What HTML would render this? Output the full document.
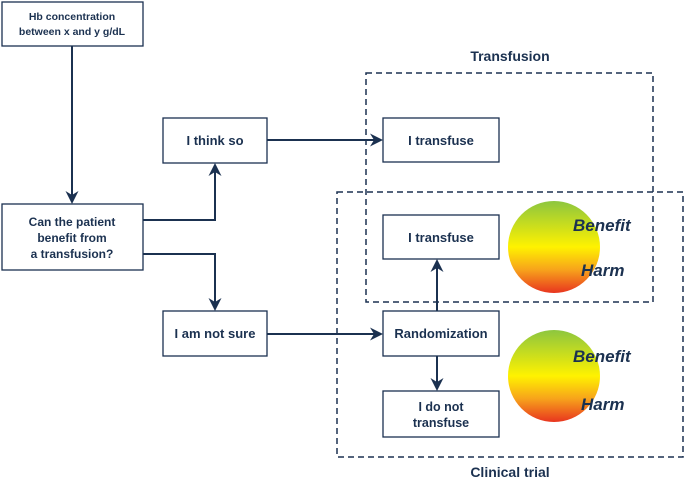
<!DOCTYPE html>
<html><head><style>body{margin:0;background:#fff}</style></head><body>
<svg width="685" height="481" xmlns="http://www.w3.org/2000/svg" font-family="Liberation Sans, sans-serif">
<defs>
<linearGradient id="g" x1="0" y1="0" x2="0" y2="1">
<stop offset="0" stop-color="#8dc63f"/><stop offset="0.5" stop-color="#fff200"/><stop offset="0.75" stop-color="#f7a21b"/><stop offset="1" stop-color="#e8351f"/>
</linearGradient>
<marker id="a" markerWidth="13" markerHeight="13" refX="11" refY="6.5" orient="auto" markerUnits="userSpaceOnUse"><path d="M0,0 L13,6.5 L0,13 L4,6.5 z" fill="#1b3150"/></marker>
</defs>
<g stroke="#1b3150" fill="none" stroke-width="1.5">
<rect x="366" y="73" width="287" height="229" stroke-dasharray="6,4"/>
<rect x="337" y="192" width="346" height="265" stroke-dasharray="6,4"/>
</g>
<circle cx="554" cy="247" r="46" fill="url(#g)"/>
<circle cx="554" cy="376" r="46" fill="url(#g)"/>
<g stroke="#1b3150" fill="#fff" stroke-width="1.3">
<rect x="2" y="2" width="141" height="44"/>
<rect x="2" y="204" width="141" height="66"/>
<rect x="163" y="118" width="104" height="45"/>
<rect x="163" y="311" width="104" height="45"/>
<rect x="383" y="118" width="116" height="44"/>
<rect x="383" y="215" width="116" height="44"/>
<rect x="383" y="311" width="116" height="45"/>
<rect x="383" y="391" width="116" height="46"/>
</g>
<g stroke="#1b3150" fill="none" stroke-width="2" marker-end="url(#a)">
<path d="M72,46 V202"/>
<path d="M143,220 H215 V165"/>
<path d="M143,254 H215 V309"/>
<path d="M267,140 H381"/>
<path d="M267,334 H381"/>
<path d="M437,311 V261"/>
<path d="M437,356 V389"/>
</g>
<g fill="#1b3150" font-weight="bold" text-anchor="middle">
<text x="72" y="20" font-size="10.5">Hb concentration</text>
<text x="72" y="35" font-size="10.5">between x and y g/dL</text>
<text x="72" y="226" font-size="12">Can the patient</text>
<text x="72" y="242" font-size="12">benefit from</text>
<text x="72" y="258" font-size="12">a transfusion?</text>
<text x="215" y="145" font-size="13">I think so</text>
<text x="215" y="338" font-size="13">I am not sure</text>
<text x="441" y="145" font-size="13">I transfuse</text>
<text x="441" y="242" font-size="13">I transfuse</text>
<text x="441" y="338" font-size="13">Randomization</text>
<text x="441" y="411" font-size="12.5">I do not</text>
<text x="441" y="427" font-size="12.5">transfuse</text>
<text x="510" y="61" font-size="14">Transfusion</text>
<text x="510" y="477" font-size="14">Clinical trial</text>
</g>
<g fill="#1b3150" font-weight="bold" font-style="italic" font-size="17">
<text x="573" y="231">Benefit</text>
<text x="581" y="276">Harm</text>
<text x="573" y="362">Benefit</text>
<text x="581" y="410">Harm</text>
</g>
</svg>
</body></html>
